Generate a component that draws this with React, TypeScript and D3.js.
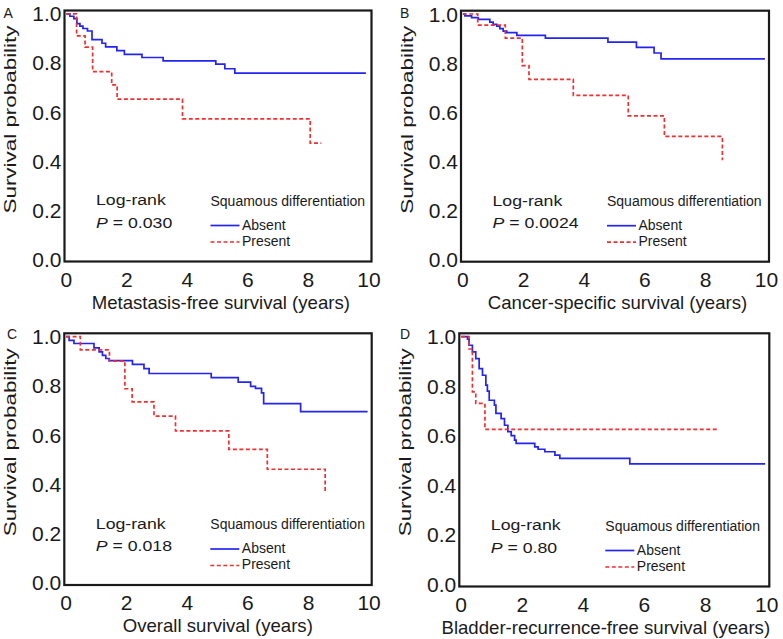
import React from "react";
import * as d3 from "d3";

const panelLetters = ["A", "B", "C", "D"];
const xTitles = [
  "Metastasis-free survival (years)",
  "Cancer-specific survival (years)",
  "Overall survival (years)",
  "Bladder-recurrence-free survival (years)",
];
const pValues = ["0.030", "0.0024", "0.018", "0.80"];
const xTicks = [0, 2, 4, 6, 8, 10];
const yTicks = [0, 0.2, 0.4, 0.6, 0.8, 1.0];
const seriesNames = ["Absent", "Present"];
const legendTitle = "Squamous differentiation";
const yTitle = "Survival probability";

// [time (years), survival probability]
const aAbsent: [number, number][] = [
  [0, 1], [0.12, 0.99], [0.25, 0.98], [0.35, 0.96], [0.45, 0.95], [0.55, 0.94], [0.7, 0.93],
  [0.85, 0.895], [1.18, 0.88], [1.3, 0.865], [1.67, 0.85], [1.92, 0.835], [2.5, 0.822],
  [3.2, 0.808], [4.94, 0.795], [5.24, 0.776], [5.57, 0.758], [9.9, 0.758],
];
const aPresent: [number, number][] = [
  [0, 1], [0.34, 0.91], [0.62, 0.864], [0.87, 0.764], [1.5, 0.71], [1.68, 0.652],
  [3.84, 0.572], [8.06, 0.473], [8.43, 0.473],
];
const bAbsent: [number, number][] = [
  [0, 1], [0.07, 0.992], [0.29, 0.985], [0.51, 0.978], [0.89, 0.967], [1.0, 0.958],
  [1.12, 0.951], [1.22, 0.94], [1.33, 0.93], [1.45, 0.924], [1.78, 0.913], [2.72, 0.902],
  [4.78, 0.885], [5.72, 0.864], [6.3, 0.841], [6.53, 0.817], [9.95, 0.817],
];
const bPresent: [number, number][] = [
  [0, 1], [0.49, 0.955], [1.4, 0.902], [1.96, 0.79], [2.18, 0.734], [3.64, 0.668],
  [5.45, 0.585], [6.64, 0.501], [8.55, 0.404],
];
const cAbsent: [number, number][] = [
  [0, 1], [0.1, 0.985], [0.26, 0.972], [0.92, 0.954], [1.09, 0.938], [1.2, 0.924],
  [1.31, 0.911], [1.42, 0.902], [2.19, 0.887], [2.57, 0.87], [2.74, 0.85], [4.79, 0.833],
  [5.68, 0.815], [6.09, 0.798], [6.25, 0.79], [6.45, 0.771], [6.52, 0.728], [7.74, 0.695],
  [9.95, 0.695],
];
const cPresent: [number, number][] = [
  [0, 1], [0.47, 0.946], [1.43, 0.9], [1.94, 0.788], [2.18, 0.735], [2.9, 0.677],
  [3.61, 0.617], [5.37, 0.542], [6.64, 0.461], [8.55, 0.371],
];
const dAbsent: [number, number][] = [
  [0, 1], [0.21, 0.99], [0.26, 0.965], [0.37, 0.938], [0.48, 0.911], [0.59, 0.871],
  [0.7, 0.844], [0.81, 0.804], [0.86, 0.78], [0.92, 0.743], [1.09, 0.723], [1.14, 0.69],
  [1.31, 0.669], [1.42, 0.642], [1.53, 0.616], [1.64, 0.6], [1.75, 0.582], [1.8, 0.569],
  [2.41, 0.555], [2.52, 0.545], [2.74, 0.535], [3.07, 0.521], [3.23, 0.508], [5.52, 0.486],
  [9.95, 0.486],
];
const dPresent: [number, number][] = [
  [0, 1], [0.26, 0.95], [0.37, 0.777], [0.48, 0.73], [0.78, 0.625], [8.4, 0.625],
];

const absentSeries = [aAbsent, bAbsent, cAbsent, dAbsent];
const presentSeries = [aPresent, bPresent, cPresent, dPresent];

const frames = [
  { l: 64.5, r: 371.5, t: 10.5, b: 261.5, lx: 3.5, ly: 18, tcx: 220.8 },
  { l: 461, r: 769, t: 10.7, b: 261.7, lx: 400, ly: 18, tcx: 617.5 },
  { l: 64.3, r: 371.7, t: 333.3, b: 585, lx: 7, ly: 339, tcx: 217.8 },
  { l: 459.3, r: 769.3, t: 333.3, b: 586.5, lx: 400, ly: 339, tcx: 605.8 },
];

const FONT = "'Liberation Sans', Arial, Helvetica, sans-serif";
const TEXT = "#1a1a1a";
const BLUE = "#2424f2";
const RED = "#f03030";

function Panel({ i }: { i: number }) {
  const f = frames[i];
  const x = d3.scaleLinear().domain([0, 10]).range([f.l + 1.8, f.r - 2.6]);
  const y = d3.scaleLinear().domain([0, 1]).range([f.b - 2.3, f.t + 3.3]);
  const line = d3
    .line<[number, number]>()
    .x((d) => x(d[0]))
    .y((d) => y(d[1]))
    .curve(d3.curveStepAfter);
  return (
    <g fontFamily={FONT} fill={TEXT}>
      <text x={f.lx} y={f.ly} fontSize={14}>{panelLetters[i]}</text>
      <rect x={f.l} y={f.t} width={f.r - f.l} height={f.b - f.t} fill="none" stroke="#1a1a1a" strokeWidth={2.2} />
      {yTicks.map((v) => (
        <text key={"y" + v} x={f.l - 3} y={y(v)} dy="0.36em" textAnchor="end" fontSize={21}>
          {v.toFixed(1)}
        </text>
      ))}
      {xTicks.map((v) => (
        <text key={"x" + v} x={x(v)} y={f.b + 25} textAnchor="middle" fontSize={21}>
          {v}
        </text>
      ))}
      <text x={f.tcx} y={f.b + 47} textAnchor="middle" fontSize={18.6}>{xTitles[i]}</text>
      <text
        transform={`translate(${f.l - 48.3},${f.t + 109}) rotate(-90)`}
        textAnchor="middle"
        fontSize={16}
        textLength={188}
        lengthAdjust="spacingAndGlyphs"
      >
        {yTitle}
      </text>
      <path d={line(absentSeries[i]) || ""} fill="none" stroke={BLUE} strokeWidth={1.7} />
      <path d={line(presentSeries[i]) || ""} fill="none" stroke={RED} strokeWidth={1.7} strokeDasharray="4,2.5" />
      <g transform={`translate(${f.l + 31.5},0) scale(1.18,1)`}>
        <text x={0} y={f.b - 56} fontSize={15}>Log-rank</text>
        <text x={0} y={f.b - 33.5} fontSize={15}>
          <tspan fontStyle="italic">P</tspan> = {pValues[i]}
        </text>
      </g>
      <text x={f.l + 146} y={f.b - 56} fontSize={14}>{legendTitle}</text>
      <line x1={f.l + 146} x2={f.l + 175} y1={f.b - 36} y2={f.b - 36} stroke={BLUE} strokeWidth={1.7} />
      <text x={f.l + 177.5} y={f.b - 32} fontSize={14}>{seriesNames[0]}</text>
      <line x1={f.l + 146} x2={f.l + 175} y1={f.b - 19.5} y2={f.b - 19.5} stroke={RED} strokeWidth={1.7} strokeDasharray="4,2.5" />
      <text x={f.l + 177.5} y={f.b - 16} fontSize={14}>{seriesNames[1]}</text>
    </g>
  );
}

export default function App() {
  return (
    <svg
      width={783}
      height={639}
      style={{ position: "absolute", left: 0, top: 0, background: "#fff" }}
    >
      <rect width={783} height={639} fill="#fff" />
      {[0, 1, 2, 3].map((i) => (
        <Panel key={i} i={i} />
      ))}
    </svg>
  );
}
